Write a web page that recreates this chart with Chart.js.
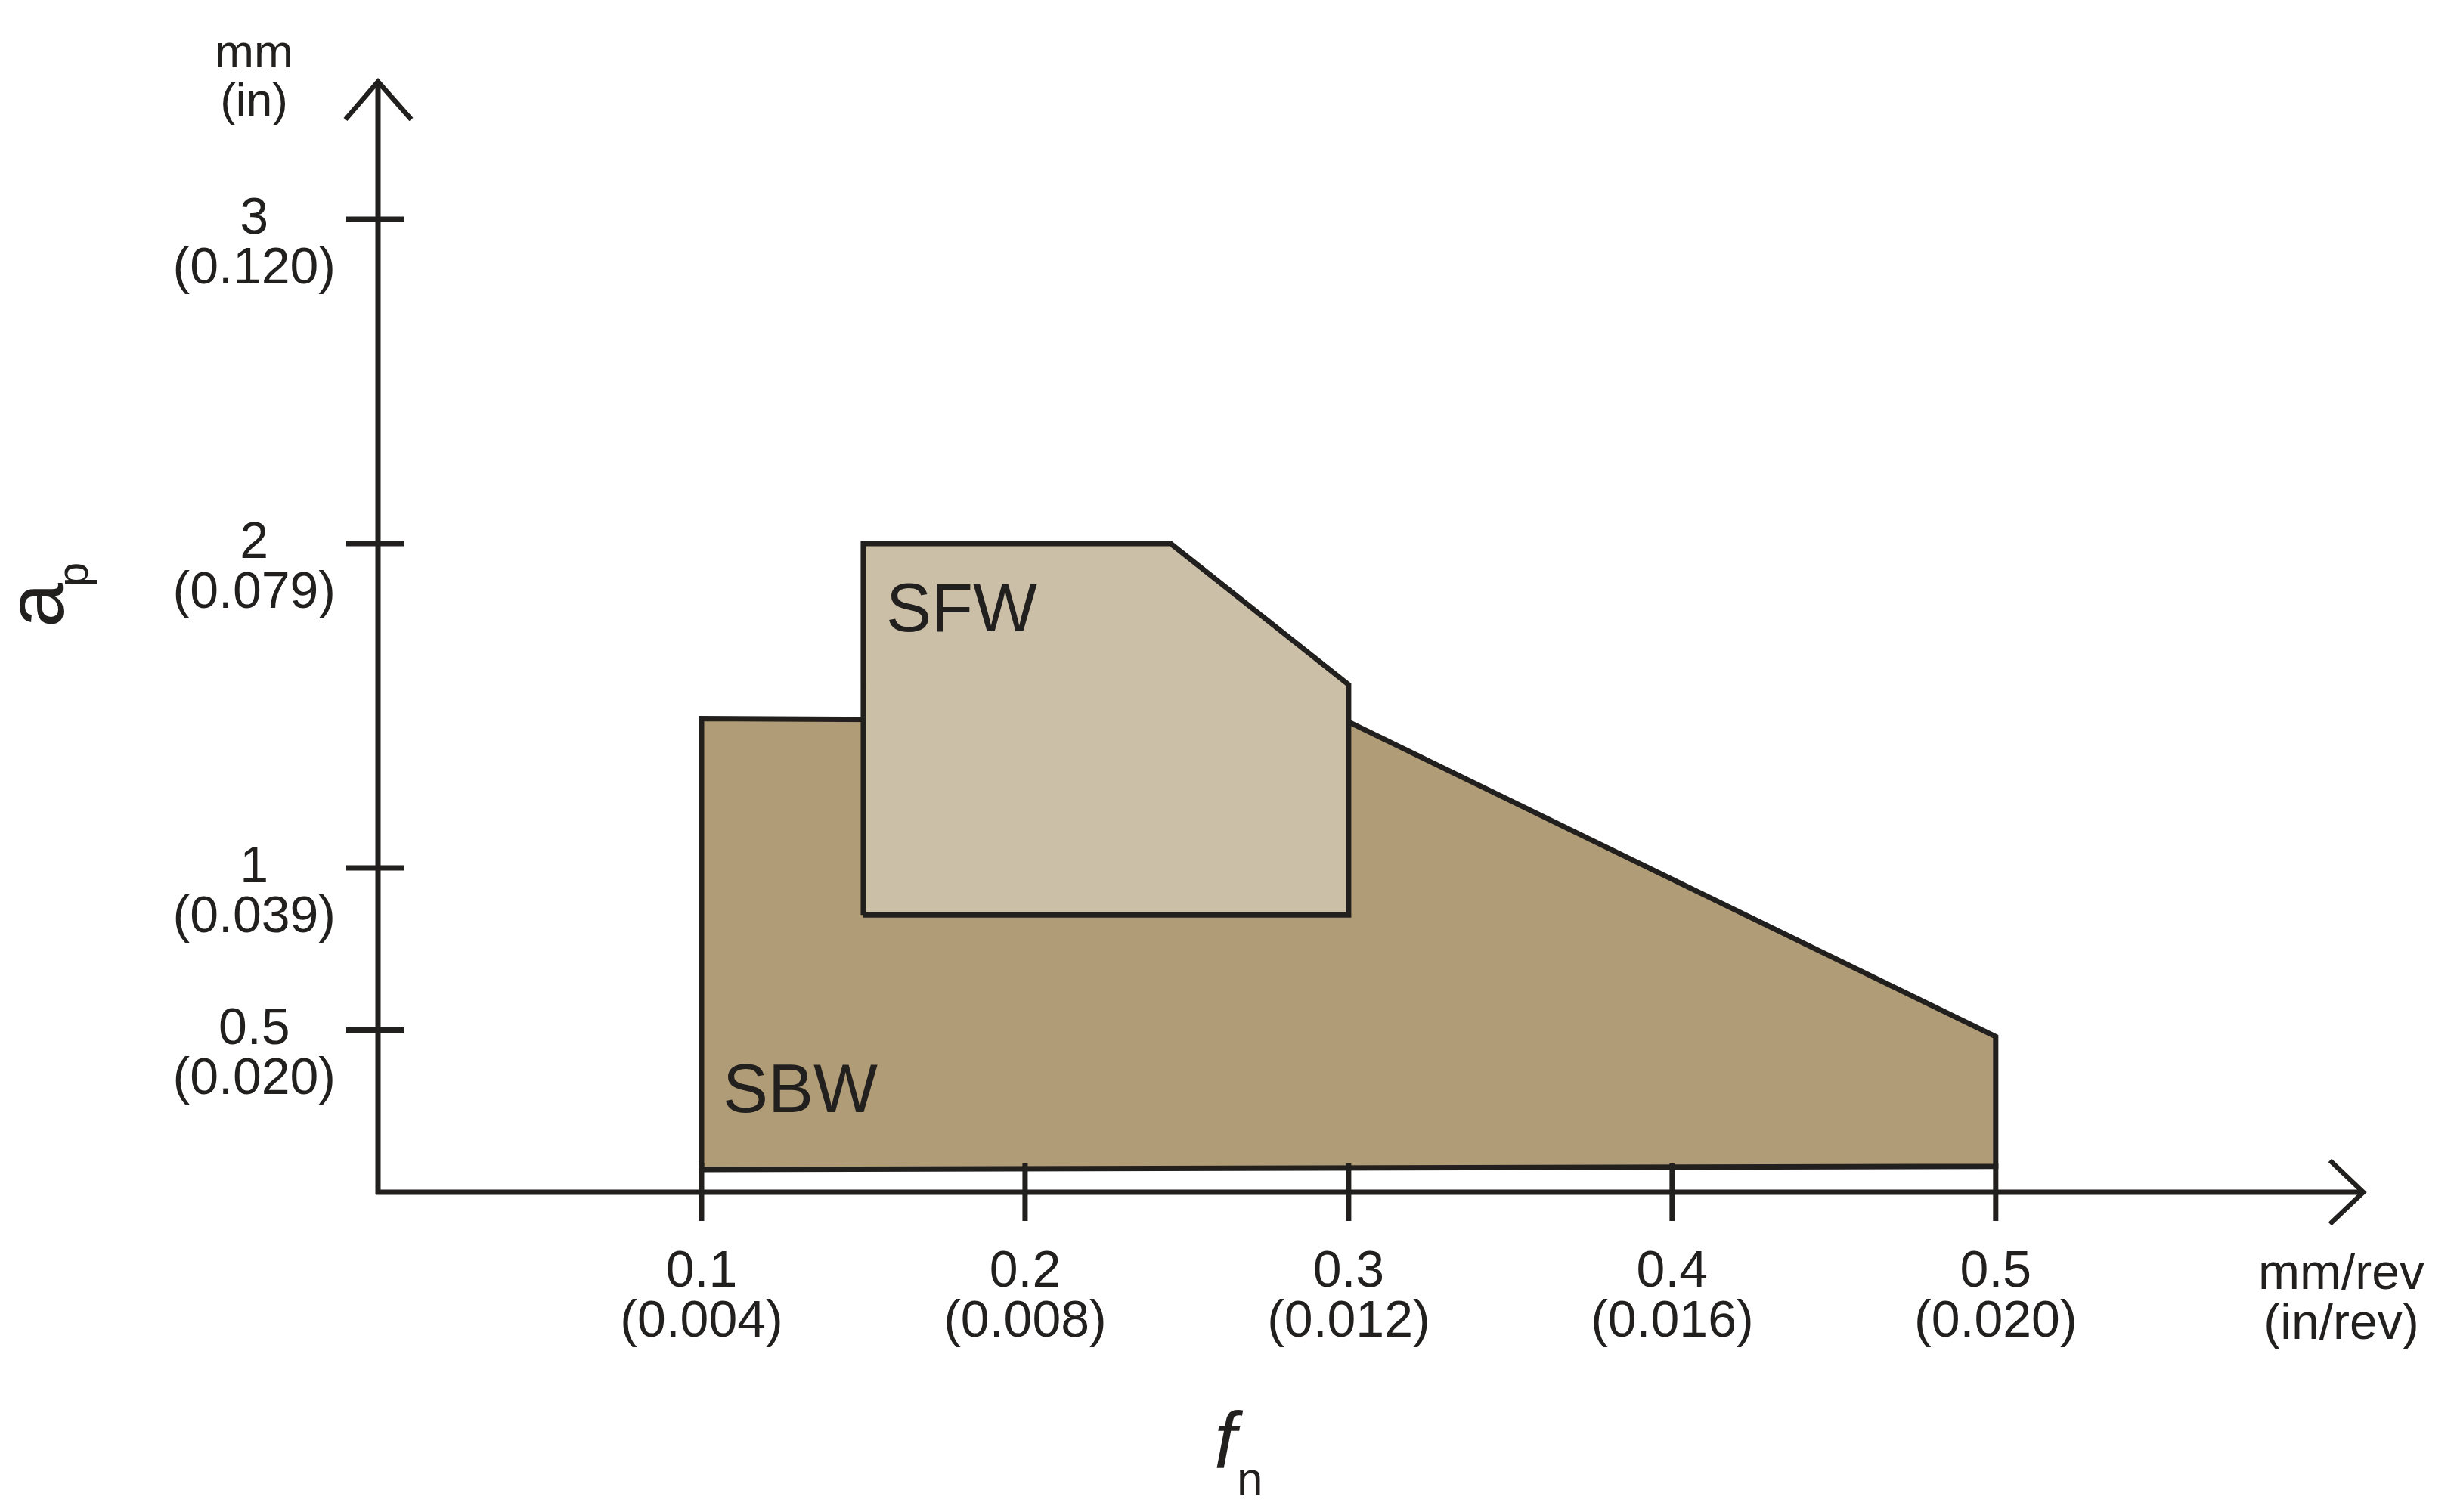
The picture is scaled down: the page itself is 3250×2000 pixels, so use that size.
<!DOCTYPE html>
<html>
<head>
<meta charset="utf-8">
<script src="https://cdn.jsdelivr.net/npm/chart.js@4"></script>
<style>
  html, body { margin: 0; padding: 0; background: #fff; }
  canvas { display: block; }
</style>
</head>
<body>
<canvas id="chart" width="3250" height="2000" style="width:3250px;height:2000px"></canvas>
<script>
// feed f_n (mm/rev) along x, depth of cut a_p (mm) along y
const xTickValues = [0.1, 0.2, 0.3, 0.4, 0.5];
const xTickMm = ['0.1', '0.2', '0.3', '0.4', '0.5'];
const xTickIn = ['(0.004)', '(0.008)', '(0.012)', '(0.016)', '(0.020)'];

const yTickValues = [0.5, 1, 2, 3];
const yTickMm = ['0.5', '1', '2', '3'];
const yTickIn = ['(0.020)', '(0.039)', '(0.079)', '(0.120)'];

const regionNames = ['SBW', 'SFW'];
// outlines of the two working areas (closed: last point = first point)
const sbwFeed  = [0.1, 0.1, 0.3, 0.5, 0.5, 0.1];
const sbwDepth = [0.07, 1.46, 1.45, 0.48, 0.08, 0.07];
const sfwFeed  = [0.15, 0.15, 0.245, 0.3, 0.3, 0.15];
const sfwDepth = [0.855, 2.0, 2.0, 1.565, 0.855, 0.855];

const toPoints = (xs, ys) => xs.map((x, i) => ({x: x, y: ys[i]}));

const INK = '#221f1f';
const FONT = '"Liberation Sans", Arial, sans-serif';

// axes with arrows, crossing tick marks, region names, units and axis titles
const frame = {
  id: 'frame',
  afterDatasetsDraw(chart) {
    const {ctx, chartArea: a, scales: {x, y}} = chart;
    const x0 = x.getPixelForValue(0);
    const y0 = y.getPixelForValue(0);
    ctx.save();
    ctx.strokeStyle = INK;
    ctx.fillStyle = INK;
    ctx.lineWidth = 7;
    ctx.lineJoin = 'miter';

    ctx.beginPath();
    ctx.moveTo(x0, y0 + 3); ctx.lineTo(x0, a.top);
    ctx.moveTo(x0 - 3, y0); ctx.lineTo(a.right, y0);
    ctx.stroke();

    ctx.lineWidth = 6.5;
    ctx.beginPath();
    ctx.moveTo(x0 - 43, a.top + 50); ctx.lineTo(x0, a.top); ctx.lineTo(x0 + 44, a.top + 50);
    ctx.moveTo(a.right - 44, y0 - 42); ctx.lineTo(a.right, y0); ctx.lineTo(a.right - 44, y0 + 42);
    ctx.stroke();

    ctx.lineWidth = 7;
    ctx.beginPath();
    y.ticks.forEach(t => {
      const p = y.getPixelForValue(t.value);
      ctx.moveTo(x0 - 42, p); ctx.lineTo(x0 + 35, p);
    });
    x.ticks.forEach(t => {
      const p = x.getPixelForValue(t.value);
      ctx.moveTo(p, y0 - 38); ctx.lineTo(p, y0 + 38);
    });
    ctx.stroke();

    // region names, placed from each outline's corner
    ctx.font = '90px ' + FONT;
    ctx.textAlign = 'left';
    ctx.textBaseline = 'alphabetic';
    chart.data.datasets.forEach(ds => {
      const xs = ds.data.map(p => p.x), ys = ds.data.map(p => p.y);
      const left = x.getPixelForValue(Math.min(...xs));
      if (ds.labelCorner === 'top') {
        ctx.fillText(ds.label, left + 30, y.getPixelForValue(Math.max(...ys)) + 116);
      } else {
        ctx.fillText(ds.label, left + 28, y.getPixelForValue(Math.min(...ys)) - 76);
      }
    });

    // units
    ctx.font = '62px ' + FONT;
    ctx.textAlign = 'center';
    ctx.textBaseline = 'middle';
    ctx.fillText('mm', x0 - 164, a.top - 36);
    ctx.fillText('(in)', x0 - 164, a.top + 28);
    ctx.font = '66px ' + FONT;
    ctx.fillText('mm/rev', a.right - 29, y0 + 110);
    ctx.fillText('(in/rev)', a.right - 29, y0 + 176);

    // axis titles
    ctx.textAlign = 'left';
    ctx.textBaseline = 'alphabetic';
    ctx.font = 'italic 105px ' + FONT;
    ctx.fillText('f', 1606, 1942);
    ctx.font = '62px ' + FONT;
    ctx.fillText('n', 1636, 1977);

    ctx.translate(83, 830);
    ctx.rotate(-Math.PI / 2);
    ctx.font = '106px ' + FONT;
    ctx.fillText('a', 0, 0);
    ctx.font = '58px ' + FONT;
    ctx.fillText('p', 54, 33);
    ctx.restore();
  }
};

const tickFont = {family: FONT, size: 68, lineHeight: 66 / 68};

new Chart(document.getElementById('chart'), {
  type: 'scatter',
  data: {
    datasets: [
      {
        label: regionNames[0],
        data: toPoints(sbwFeed, sbwDepth),
        labelCorner: 'bottom',
        showLine: true,
        fill: 'shape',
        backgroundColor: '#b09c77',
        borderColor: INK,
        borderWidth: 7,
        borderJoinStyle: 'miter',
        pointRadius: 0,
        order: 2
      },
      {
        label: regionNames[1],
        data: toPoints(sfwFeed, sfwDepth),
        labelCorner: 'top',
        showLine: true,
        fill: 'shape',
        backgroundColor: '#cbbfa8',
        borderColor: INK,
        borderWidth: 7,
        borderJoinStyle: 'miter',
        pointRadius: 0,
        order: 1
      }
    ]
  },
  options: {
    responsive: false,
    animation: false,
    devicePixelRatio: 1,
    layout: {padding: {left: 0, top: 108, right: 124, bottom: 0}},
    plugins: {legend: {display: false}, tooltip: {enabled: false}},
    scales: {
      x: {
        type: 'linear',
        position: 'bottom',
        min: 0,
        max: 0.6136,
        grid: {display: false, drawTicks: false, tickLength: 0},
        border: {display: false},
        afterBuildTicks: s => { s.ticks = xTickValues.map(v => ({value: v})); },
        afterFit: s => { s.height = 423; s.paddingLeft = 0; s.paddingRight = 0; },
        ticks: {
          autoSkip: false,
          maxRotation: 0,
          minRotation: 0,
          padding: 73,
          color: INK,
          font: tickFont,
          callback: (v, i) => [xTickMm[i], xTickIn[i]]
        }
      },
      y: {
        type: 'linear',
        position: 'left',
        min: 0,
        max: 3.424,
        grid: {display: false, drawTicks: false, tickLength: 0},
        border: {display: false},
        afterBuildTicks: s => { s.ticks = yTickValues.map(v => ({value: v})); },
        afterFit: s => { s.width = 500; s.paddingTop = 0; s.paddingBottom = 0; },
        ticks: {
          autoSkip: false,
          crossAlign: 'center',
          padding: 56,
          labelOffset: 33,
          color: INK,
          font: tickFont,
          callback: (v, i) => [yTickMm[i], yTickIn[i]]
        }
      }
    }
  },
  plugins: [frame]
});
</script>
</body>
</html>
